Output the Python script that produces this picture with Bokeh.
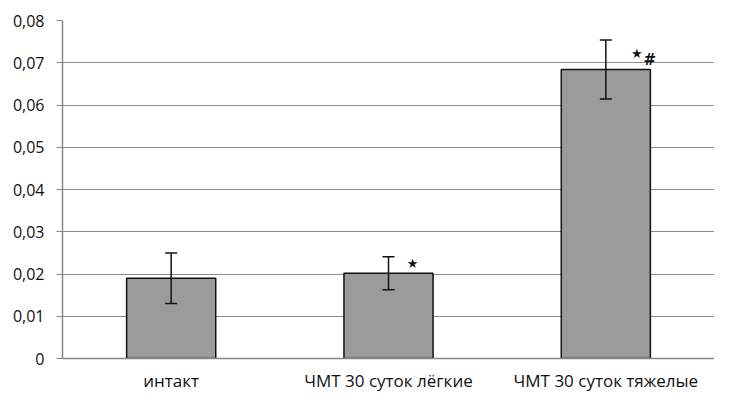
from bokeh.plotting import figure
from bokeh.models import Range1d, FixedTicker, ColumnDataSource, Whisker
from bokeh.core.properties import value
from bokeh.embed import file_html
from bokeh.resources import INLINE

categories = ["интакт", "ЧМТ 30 суток лёгкие", "ЧМТ 30 суток тяжелые"]
means = [0.019, 0.0202, 0.0684]
errors = [0.006, 0.0039, 0.007]
y_ticks = [0, 0.01, 0.02, 0.03, 0.04, 0.05, 0.06, 0.07, 0.08]
y_tick_labels = ["0", "0,01", "0,02", "0,03", "0,04", "0,05", "0,06", "0,07", "0,08"]

FONT = "Open Sans"

src = ColumnDataSource(dict(
    cat=categories,
    val=means,
    upper=[m + e for m, e in zip(means, errors)],
    lower=[m - e for m, e in zip(means, errors)],
))

p = figure(x_range=categories, y_range=Range1d(0, 0.08),
           width=714, height=394, output_backend="svg", toolbar_location=None,
           min_border_left=62, min_border_right=0, min_border_top=20, min_border_bottom=25)
p.outline_line_color = None
p.background_fill_color = "white"
p.border_fill_color = "white"

p.vbar(x="cat", top="val", width=0.41, source=src,
       fill_color="#9b9b9b", line_color="#111111", line_width=1.5)

w = Whisker(base="cat", upper="upper", lower="lower", source=src,
            line_color="#111111", line_width=1.5, level="overlay")
w.upper_head.size = 12
w.lower_head.size = 12
w.upper_head.line_color = "#111111"
w.lower_head.line_color = "#111111"
w.upper_head.line_width = 1.5
w.lower_head.line_width = 1.5
p.add_layout(w)

# significance marks
p.text(x=[categories[1]], y=[means[1]], text=["★"], x_offset=24, y_offset=-10,
       text_align="center", text_baseline="middle", text_font_size="13px",
       text_color="#111111", text_font=value("DejaVu Sans"))
p.text(x=[categories[2]], y=[means[2]], text=["★"], x_offset=31, y_offset=-16,
       text_align="center", text_baseline="middle", text_font_size="13px",
       text_color="#111111", text_font=value("DejaVu Sans"))
p.text(x=[categories[2]], y=[means[2]], text=["#"], x_offset=44, y_offset=-10,
       text_align="center", text_baseline="middle", text_font_size="15px",
       text_font_style="bold", text_color="#111111", text_font=value("DejaVu Sans"))

# axes
p.yaxis.ticker = FixedTicker(ticks=y_ticks)
p.yaxis.major_label_overrides = {t: l for t, l in zip(y_ticks, y_tick_labels)}
p.yaxis.major_label_text_font = FONT
p.yaxis.major_label_text_font_size = "16px"
p.yaxis.major_label_text_color = "#111111"
p.yaxis.major_label_standoff = 12
p.yaxis.axis_line_color = "#888888"
p.yaxis.axis_line_width = 1.5
p.yaxis.major_tick_line_color = "#888888"
p.yaxis.major_tick_out = 6
p.yaxis.major_tick_in = 0
p.yaxis.minor_tick_line_color = None

p.xaxis.major_label_text_font = FONT
p.xaxis.major_label_text_font_size = "17px"
p.xaxis.major_label_text_color = "#111111"
p.xaxis.major_label_standoff = 4
p.xaxis.axis_line_color = "#888888"
p.xaxis.axis_line_width = 1.5
p.xaxis.major_tick_line_color = None

p.xgrid.grid_line_color = None
p.ygrid.grid_line_color = "#8c8c8c"
p.ygrid.grid_line_width = 1.2

open("out.html", "w").write(file_html(p, INLINE))
